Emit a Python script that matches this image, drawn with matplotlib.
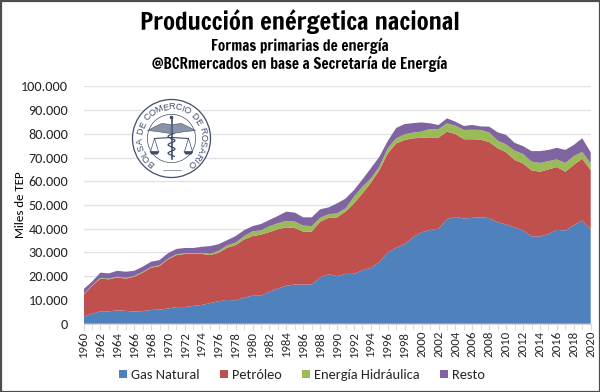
import numpy as np
import matplotlib
matplotlib.use('Agg')
import matplotlib.pyplot as plt
from matplotlib.patches import Circle, Rectangle, Polygon
import logging

logging.getLogger('matplotlib.font_manager').setLevel(logging.ERROR)

years = list(range(1960, 2021))
gas = [3000, 4200, 5200, 5200, 5600, 5400, 5100, 5300, 5800, 5900,
       6400, 7000, 7000, 7500, 7900, 8700, 9500, 10000, 9800, 11000,
       11800, 11800, 13500, 14800, 16000, 16500, 16500, 16500, 19500, 20800,
       20000, 21000, 21000, 22500, 23500, 26000, 30000, 32000, 33500, 36500,
       38500, 39500, 40000, 44000, 45000, 44300, 44600, 44800, 44500, 42700,
       41800, 40500, 39300, 36800, 36700, 37800, 39500, 39300, 41500, 43500,
       39700]
petroleo = [9100, 11700, 13800, 13500, 13900, 13600, 14700, 16200, 17800, 18400,
            20700, 21900, 22400, 21900, 21500, 20200, 20400, 22000, 23300, 24500,
            25100, 25700, 25100, 25000, 24600, 23800, 22300, 22300, 23500, 23800,
            24800, 26200, 29700, 32400, 35900, 38700, 41800, 44000, 43900, 41600,
            39800, 39000, 38400, 36900, 34900, 33400, 33100, 32700, 32000, 31200,
            30400, 28500, 28200, 27800, 27300, 27200, 26500, 24700, 25400, 26000,
            25000]
hidraulica = [200, 200, 300, 300, 300, 300, 300, 300, 300, 300,
              300, 300, 300, 300, 400, 500, 800, 1000, 1000, 1400,
              2000, 1800, 2500, 2500, 2700, 2700, 2500, 2300, 1600, 1500,
              1700, 1400, 2800, 2800, 1800, 1400, 2200, 2100, 2400, 2400,
              2600, 3500, 3500, 3500, 3500, 3900, 4000, 4100, 4000, 3200,
              3300, 3900, 4000, 3700, 3700, 3500, 3200, 3700, 3700, 2900,
              2800]
resto = [2200, 1600, 2200, 2200, 2500, 2600, 2200, 2200, 2200, 2200,
         2300, 2300, 2200, 2200, 2600, 3300, 2800, 2200, 2800, 2500,
         2200, 2700, 2600, 3100, 3900, 3800, 3500, 3700, 3600, 2900,
         4200, 4100, 2800, 3100, 4300, 4200, 3000, 4400, 4300, 4000,
         3900, 2400, 1800, 2100, 1700, 1700, 2000, 1500, 2500, 3500,
         4000, 3300, 3300, 4400, 5000, 4700, 4900, 5500, 4700, 5700,
         4700]
series_names = ['Gas Natural', 'Petróleo', 'Energía Hidráulica', 'Resto']
series_colors = ['#4f81bd', '#c0504d', '#9bbb59', '#8064a2']
y_ticks = [0, 10000, 20000, 30000, 40000, 50000, 60000, 70000, 80000, 90000, 100000]

SEAL = '#3f4d6b'
W, H = 600, 392
# falls back to fonts named in the brief if the first one is missing
BODY = ['Carlito', 'Open Sans']
COND = ['Francois One', 'Fjalla One', 'Lato']


def fmt_miles(v):
    return f'{v:,}'.replace(',', '.')


def draw_seal(ov, cx, cy, r):
    ov.add_patch(Circle((cx, cy), r, fc='white', ec=SEAL, lw=0.9, zorder=5))
    ov.add_patch(Circle((cx, cy), r * 0.62, fc='white', ec=SEAL, lw=0.5, zorder=5))
    # curved text, one letter at a time, spaced by rough letter width
    txt = 'BOLSA DE COMERCIO DE ROSARIO'
    widths = np.array([{'I': 0.45, ' ': 0.55, 'M': 1.2, 'L': 0.85, 'E': 0.9}.get(c, 1.0) for c in txt])
    pos = np.cumsum(widths) - widths / 2
    angs = -140 + 280 * (pos - pos[0]) / (pos[-1] - pos[0])
    for ch, a in zip(txt, angs):
        t = np.radians(a)
        ov.text(cx + r * 0.81 * np.sin(t), cy - r * 0.81 * np.cos(t), ch, rotation=-a,
                rotation_mode='anchor', ha='center', va='center', fontsize=6.6,
                color=SEAL, family='Liberation Sans', zorder=6)
    # staff and snake
    ov.plot([cx, cx], [cy - 22, cy + 20], color=SEAL, lw=1.2, zorder=6)
    ov.add_patch(Circle((cx, cy - 21), 1.8, fc=SEAL, ec='none', zorder=6))
    sy = np.linspace(cy - 6, cy + 18, 40)
    ov.plot(cx + 3.5 * np.sin((sy - cy) * 0.75), sy, color=SEAL, lw=0.9, zorder=6)
    for s in (-1, 1):
        # wings
        ov.add_patch(Polygon([(cx + s * 1, cy - 14), (cx + s * 10, cy - 15), (cx + s * 24, cy - 8),
                              (cx + s * 14, cy - 7), (cx + s * 1, cy - 5)],
                             fc='#8a94a8', ec=SEAL, lw=0.4, zorder=6))
        # scales
        px = cx + s * 17
        ov.plot([cx, px], [cy - 1, cy], color=SEAL, lw=0.8, zorder=6)
        ov.plot([px, px - 4, px + 4, px], [cy, cy + 13, cy + 13, cy], color=SEAL, lw=0.5, zorder=6)
        ov.add_patch(Polygon([(px - 5, cy + 13), (px + 5, cy + 13), (px + 3, cy + 16), (px - 3, cy + 16)],
                             fc=SEAL, ec='none', zorder=6))
    ov.plot([cx - 9, cx + 9], [cy + 31, cy + 31], color=SEAL, lw=0.4, zorder=6)


fig = plt.figure(figsize=(6, 3.92), dpi=100, facecolor='white')
ax = fig.add_axes([83.5 / W, 1 - 323.7 / H, (590.7 - 83.5) / W, (323.7 - 86.3) / H])

ax.stackplot(years, gas, petroleo, hidraulica, resto, labels=series_names,
             colors=series_colors, linewidth=0, zorder=3)
ax.set_xlim(1960, 2020)
ax.set_ylim(0, 100000)
ax.set_yticks(y_ticks)
ax.set_yticklabels([fmt_miles(v) for v in y_ticks], family=BODY, fontsize=10.2, color='#262626')
ax.set_xticks(years[::2])
ax.set_xticks(years[1::2], minor=True)
ax.set_xticklabels([str(y) for y in years[::2]], rotation=90, family=BODY, fontsize=9.2, color='#262626')
ax.tick_params(axis='y', length=0, pad=11)
ax.tick_params(axis='x', which='both', length=4, color='#d9d9d9', pad=1)
ax.grid(axis='y', color='#e3e3e3', lw=1, zorder=0)
ax.set_axisbelow(True)
for side in ['top', 'right', 'left']:
    ax.spines[side].set_visible(False)
ax.spines['bottom'].set_color('#d9d9d9')

fig.text(20 / W, 1 - 205 / H, 'Miles de TEP', rotation=90, ha='center', va='center',
         family=BODY, fontsize=9.3, color='black')

fig.text(299.5 / W, 1 - 22 / H, 'Producción enérgetica nacional', ha='center', va='center',
         family=COND, fontsize=17.6, color='black')
fig.text(299.5 / W, 1 - 46 / H, 'Formas primarias de energía', ha='center', va='center',
         family=COND, fontsize=10.8, color='black')
fig.text(299.5 / W, 1 - 64 / H, '@BCRmercados en base a Secretaría de Energía', ha='center', va='center',
         family=COND, fontsize=10.8, color='black')

fig.legend(loc='center', bbox_to_anchor=(302 / W, 1 - 375 / H), ncol=4, frameon=False,
           prop={'family': BODY, 'size': 10.4}, labelcolor='#262626',
           handlelength=0.55, handleheight=0.55, handletextpad=0.3, columnspacing=1.38)

ov = fig.add_axes([0, 0, 1, 1], facecolor='none')
ov.set_xlim(0, W)
ov.set_ylim(H, 0)
ov.axis('off')
draw_seal(ov, 171.5, 138.5, 39)
ov.add_patch(Rectangle((0.5, 0.5), W - 1, H - 1, fc='none', ec='#4d4d4d', lw=1.6, zorder=10))

fig.savefig('out.png', dpi=100, facecolor='white')
